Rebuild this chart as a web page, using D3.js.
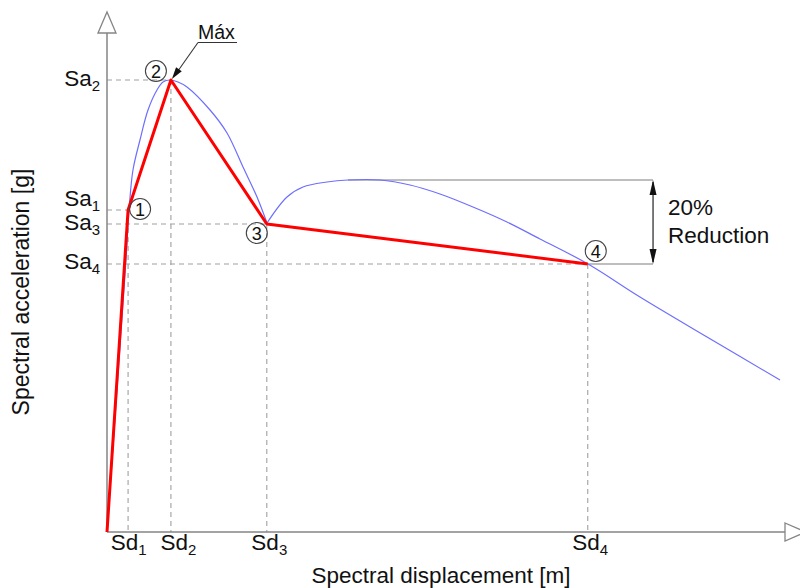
<!DOCTYPE html>
<html>
<head>
<meta charset="utf-8">
<script src="https://cdn.jsdelivr.net/npm/d3@7"></script>
<style>
  html, body { margin: 0; padding: 0; background: #fff; }
  svg { display: block; font-family: "Liberation Sans", Arial, Helvetica, sans-serif; }
</style>
</head>
<body>
<svg id="chart" width="800" height="588"></svg>
<script>
// Idealised capacity points (Sd [m], Sa [g])
const pointIds = ["1", "2", "3", "4"];
const sdValues = [0.31, 0.94, 2.35, 7.07];
const saValues = [0.644, 0.904, 0.616, 0.536];
const sdLabels = ["Sd", "Sd", "Sd", "Sd"];
const saLabels = ["Sa", "Sa", "Sa", "Sa"];

// Capacity curve, rising branch up to the local minimum (point 3)
const curveRiseSd = [0, 0.279, 0.324, 0.382, 0.485, 0.603, 0.735, 0.824, 0.926, 1.044, 1.176, 1.515, 1.765, 2.000, 2.206, 2.353];
const curveRiseSa = [0, 0.544, 0.644, 0.724, 0.784, 0.844, 0.884, 0.900, 0.904, 0.900, 0.890, 0.844, 0.798, 0.730, 0.670, 0.618];
// Capacity curve, second branch after the local minimum
const curveTailSd = [2.353, 2.647, 2.882, 3.235, 3.544, 4.015, 4.456, 4.897, 5.382, 5.882, 6.368, 7.074, 7.838, 8.824, 9.897];
const curveTailSa = [0.618, 0.670, 0.690, 0.700, 0.704, 0.704, 0.694, 0.676, 0.650, 0.620, 0.586, 0.536, 0.470, 0.390, 0.304];

// Post-peak plateau level and the 20 % reduction marker
const plateauSa = 0.704;
const plateauSd = 3.544;
const reductionSd = 8.03;
const reductionText = ["20%", "Reduction"];

const svg = d3.select("#chart");
const x = d3.scaleLinear().domain([0, 10]).range([107, 787]);
const y = d3.scaleLinear().domain([0, 1]).range([532, 32]);

const axisColor = "#858585";
const dashColor = "#a0a0a0";
const font = "22.5px";

// --- dashed guide lines ---
const guides = svg.append("g").attr("stroke", dashColor).attr("stroke-width", 1.1)
  .attr("stroke-dasharray", "5,4").attr("fill", "none");
sdValues.forEach((sd, i) => {
  guides.append("line").attr("x1", x(0)).attr("x2", x(sd)).attr("y1", y(saValues[i])).attr("y2", y(saValues[i]));
  guides.append("line").attr("x1", x(sd)).attr("x2", x(sd)).attr("y1", y(saValues[i])).attr("y2", y(0));
});

// --- axes ---
const xAxis = d3.axisBottom(x).tickValues(sdValues).tickSize(0).tickFormat("");
const gx = svg.append("g").attr("transform", `translate(0,${y(0)})`).call(xAxis);
gx.select(".domain").attr("d", `M${x(0)},0H785`).attr("stroke", axisColor).attr("stroke-width", 1.5);
const sdShift = [0, 7, 2, 2];
gx.selectAll(".tick text").each(function(d, i) {
  const t = d3.select(this).text(null)
    .attr("y", 18).attr("dy", 0).attr("dx", sdShift[i])
    .attr("fill", "#111").attr("font-size", font).attr("text-anchor", "middle")
    .attr("font-family", "Liberation Sans, Arial, sans-serif");
  t.append("tspan").text(sdLabels[i]);
  t.append("tspan").attr("font-size", "15px").attr("dy", 5).text(pointIds[i]);
});
// x arrowhead (open)
svg.append("path").attr("d", `M785,523L806,532L785,541Z`)
  .attr("fill", "#fff").attr("stroke", axisColor).attr("stroke-width", 1.3);

const yAxis = d3.axisLeft(y).tickValues(saValues).tickSize(0).tickFormat("");
const gy = svg.append("g").attr("transform", `translate(${x(0)},0)`).call(yAxis);
gy.select(".domain").attr("d", `M0,${y(0)}V33`).attr("stroke", axisColor).attr("stroke-width", 1.5);
const saShift = [-5, 5, 5, 4];
gy.selectAll(".tick text").each(function(d, i) {
  const t = d3.select(this).text(null)
    .attr("x", -7).attr("dy", saShift[i]).attr("dx", 0)
    .attr("fill", "#111").attr("font-size", font).attr("text-anchor", "end")
    .attr("font-family", "Liberation Sans, Arial, sans-serif");
  t.append("tspan").text(saLabels[i]);
  t.append("tspan").attr("font-size", "15px").attr("dy", 5).text(pointIds[i]);
});
// y arrowhead (open)
svg.append("path").attr("d", `M${x(0) - 9},33L${x(0)},12L${x(0) + 9},33Z`)
  .attr("fill", "#fff").attr("stroke", axisColor).attr("stroke-width", 1.3);

// --- axis titles ---
svg.append("text").attr("x", 441).attr("y", 583).attr("text-anchor", "middle")
  .attr("font-size", font).attr("fill", "#111").text("Spectral displacement [m]");
svg.append("text").attr("transform", "translate(29,292) rotate(-90)").attr("text-anchor", "middle")
  .attr("font-size", "23px").attr("fill", "#111").text("Spectral acceleration [g]");

// --- reduction annotation ---
const ann = svg.append("g").attr("stroke", "#a8a8a8").attr("stroke-width", 1.3);
ann.append("line").attr("x1", x(plateauSd)).attr("x2", x(reductionSd)).attr("y1", y(plateauSa)).attr("y2", y(plateauSa));
ann.append("line").attr("x1", x(sdValues[3])).attr("x2", x(reductionSd)).attr("y1", y(saValues[3])).attr("y2", y(saValues[3]));
const ax = x(reductionSd), yTop = y(plateauSa), yBot = y(saValues[3]);
svg.append("line").attr("x1", ax).attr("x2", ax).attr("y1", yTop + 2).attr("y2", yBot - 2)
  .attr("stroke", "#222").attr("stroke-width", 1.2);
svg.append("path").attr("d", `M${ax},${yTop}L${ax - 3.5},${yTop + 15}L${ax + 3.5},${yTop + 15}Z`).attr("fill", "#111");
svg.append("path").attr("d", `M${ax},${yBot}L${ax - 3.5},${yBot - 15}L${ax + 3.5},${yBot - 15}Z`).attr("fill", "#111");
svg.append("text").attr("x", ax + 15).attr("y", 215).attr("font-size", font).attr("fill", "#111").text(reductionText[0]);
svg.append("text").attr("x", ax + 15).attr("y", 243).attr("font-size", font).attr("fill", "#111").text(reductionText[1]);

// --- capacity curve (blue) ---
const line = d3.line().x(d => x(d[0])).y(d => y(d[1])).curve(d3.curveCatmullRom.alpha(0.5));
const rise = d3.zip(curveRiseSd, curveRiseSa);
const tail = d3.zip(curveTailSd, curveTailSa);
[rise, tail].forEach(pts => {
  svg.append("path").datum(pts).attr("d", line)
    .attr("fill", "none").attr("stroke", "#6e6eff").attr("stroke-width", 1.2);
});

// --- idealised multilinear curve (red) ---
const redPts = [[0, 0]].concat(d3.zip(sdValues, saValues));
svg.append("path").datum(redPts)
  .attr("d", d3.line().x(d => x(d[0])).y(d => y(d[1])))
  .attr("fill", "none").attr("stroke", "#ff0000").attr("stroke-width", 3).attr("stroke-linejoin", "round");

// --- numbered point markers ---
const markerOffset = [[12, -1], [-15, -9], [-10, 9], [8, -13]];
pointIds.forEach((id, i) => {
  const cx = x(sdValues[i]) + markerOffset[i][0];
  const cy = y(saValues[i]) + markerOffset[i][1];
  svg.append("circle").attr("cx", cx).attr("cy", cy).attr("r", 10.5)
    .attr("fill", "none").attr("stroke", "#444").attr("stroke-width", 1.1);
  svg.append("text").attr("x", cx).attr("y", cy + 6.5).attr("text-anchor", "middle")
    .attr("font-size", "18px").attr("fill", "#111").text(id);
});

// --- peak callout ---
const px = x(sdValues[1]) + 1, py = y(saValues[1]) - 1;
svg.append("text").attr("x", 198).attr("y", 39).attr("font-size", "19.5px").attr("fill", "#111").text("Máx");
svg.append("line").attr("x1", 198).attr("x2", 237).attr("y1", 42.5).attr("y2", 42.5)
  .attr("stroke", "#333").attr("stroke-width", 1.2);
svg.append("line").attr("x1", 198).attr("y1", 42.5).attr("x2", px + 6).attr("y2", py - 8)
  .attr("stroke", "#333").attr("stroke-width", 1.1);
const ang = Math.atan2(py - 42.5, px - 198);
const ah = 12, aw = 3.5;
const bx = px - ah * Math.cos(ang), by = py - ah * Math.sin(ang);
svg.append("path").attr("d",
  `M${px},${py}L${bx + aw * Math.sin(ang)},${by - aw * Math.cos(ang)}L${bx - aw * Math.sin(ang)},${by + aw * Math.cos(ang)}Z`)
  .attr("fill", "#111");
</script>
</body>
</html>
